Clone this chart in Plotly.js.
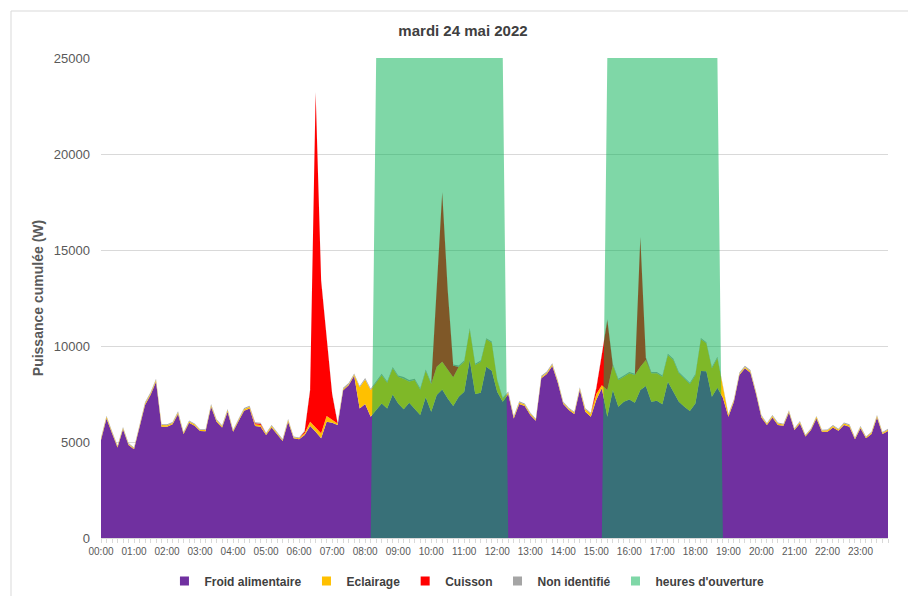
<!DOCTYPE html>
<html>
<head>
<meta charset="utf-8">
<script src="https://cdn.plot.ly/plotly-3.0.1.min.js"></script>
<style>html,body{margin:0;padding:0;background:#fff;}#chart{width:908px;height:596px;}</style>
</head>
<body>
<div id="chart"></div>
<script>
// 10-minute time slots 00:00 .. 23:50
var times = [];
for (var h = 0; h < 24; h++) { for (var m = 0; m < 60; m += 10) { times.push((h < 10 ? '0' : '') + h + ':' + (m < 10 ? '0' : '') + m); } }
var hourLabels = ['00:00','01:00','02:00','03:00','04:00','05:00','06:00','07:00','08:00','09:00','10:00','11:00',
                  '12:00','13:00','14:00','15:00','16:00','17:00','18:00','19:00','20:00','21:00','22:00','23:00'];

var froidAlimentaire = [
 5100,6230,5450,4720,5660,4840,4620,5800,6930,7450,
 8140,5800,5800,5920,6460,5420,6000,5850,5570,5560,
 6840,6060,5760,6580,5540,6090,6630,6750,5830,5800,
 5360,5760,5420,5050,6060,5190,5140,5360,5830,5540,
 5190,6060,6000,5890,7700,7950,8450,6750,6980,6320,
 6670,7010,6750,7480,7010,6700,7050,6750,6410,7330,
 6580,7450,7740,7270,6870,7360,7620,9270,7500,7570,
 8920,8710,7600,7100,7500,6230,6980,6870,6410,6110,
 8320,8540,8960,8090,6980,6670,6460,7710,6580,6320,
 7200,7800,6320,7710,6840,7100,7220,7050,7710,7920,
 7100,7150,6960,8140,7620,7100,6840,6620,7000,8700,
 8690,7360,7820,7300,6320,7100,8490,8840,8610,7530,
 6280,5890,6280,5890,5850,6530,5620,5970,5280,5620,
 6230,5540,5540,5760,5590,5890,5800,5140,5710,5190,
 5420,6280,5420,5570];

var eclairage = [
 70,80,70,60,70,60,60,70,80,80,
 90,80,70,70,80,60,70,70,60,60,
 80,70,60,80,60,70,80,80,90,90,
 70,70,60,60,80,60,60,90,230,220,
 260,290,150,80,60,60,60,1100,1280,1390,
 1420,1480,1340,1360,1390,1600,1100,1480,1330,1380,
 1440,1470,1440,1480,1500,1560,1560,1600,1510,1610,
 1430,1460,600,150,70,70,80,80,70,60,
 70,70,80,70,60,60,70,80,130,150,
 300,150,1390,1300,1390,1300,1360,1440,1210,1350,
 1480,1430,1440,1390,1650,1480,1440,1400,1480,1650,
 1450,1480,1550,500,100,80,70,70,80,70,
 70,60,70,70,60,70,60,70,60,60,
 80,60,70,70,60,70,70,60,70,60,
 70,80,60,70];

var cuisson = [
 0,0,0,0,0,0,0,0,0,0,
 0,0,0,0,0,0,0,0,0,0,
 0,0,0,0,0,0,0,0,60,60,
 0,0,0,0,0,0,0,100,1650,17430,
 7950,3950,1350,0,0,0,0,0,0,0,
 0,0,0,0,0,0,0,0,0,0,
 0,4200,8810,4150,600,0,0,0,0,0,
 0,0,0,0,0,0,0,0,0,0,
 0,0,0,0,0,0,0,0,0,0,
 300,1600,3640,0,0,0,0,0,6730,100,
 0,0,0,0,0,0,0,0,0,0,
 0,0,0,0,0,0,0,0,0,0,
 0,0,0,0,0,0,0,0,0,0,
 0,0,0,0,0,0,0,0,0,0,
 0,0,0,0];

var nonIdentifie = [
 50,60,50,40,50,50,40,50,60,60,
 60,50,50,50,60,40,50,50,40,50,
 60,50,50,60,40,50,60,60,50,50,
 40,50,40,40,60,40,40,50,60,60,
 60,60,50,50,60,60,60,70,70,60,
 60,70,60,60,70,90,80,60,60,70,
 60,60,60,70,60,70,60,70,60,70,
 60,70,60,50,60,50,60,60,50,40,
 60,60,60,50,50,50,40,60,50,50,
 50,50,60,60,60,60,60,60,60,60,
 60,60,60,60,70,60,60,60,60,70,
 60,60,70,60,50,50,60,60,60,50,
 50,40,50,50,40,50,40,50,40,40,
 50,40,40,50,40,50,50,40,50,40,
 40,50,40,50];

// opening hours (shop open) drawn as a band up to the top of the axis
var openingFrom = ['08:20', '15:20'];
var openingTo   = ['12:10', '18:40'];
var openingLevel = 25000;

var seriesNames  = ['Froid alimentaire', 'Eclairage', 'Cuisson', 'Non identifié', "heures d'ouverture"];
var seriesColors = ['#7030a0', '#ffc000', '#ff0000', '#a5a5a5', 'rgba(0,176,80,0.5)'];

var idx = times.map(function(t, i){ return i; });
var ouverture = times.map(function(t){
  for (var k = 0; k < openingFrom.length; k++) { if (t >= openingFrom[k] && t <= openingTo[k]) return openingLevel; }
  return 0;
});

var stacks = [froidAlimentaire, eclairage, cuisson, nonIdentifie];
var data = [];
stacks.forEach(function(arr, k){
  data.push({x: idx, y: arr, type: 'scatter', mode: 'lines', stackgroup: 'one',
             line: {width: 0, color: seriesColors[k]}, fillcolor: seriesColors[k],
             name: seriesNames[k], showlegend: false, hoverinfo: 'skip'});
});
data.push({x: idx, y: ouverture, type: 'scatter', mode: 'lines', fill: 'tozeroy',
           line: {width: 0, color: seriesColors[4]}, fillcolor: seriesColors[4],
           name: seriesNames[4], showlegend: false, hoverinfo: 'skip'});
// legend entries (square swatches)
seriesNames.forEach(function(n, k){
  data.push({x: [null], y: [null], type: 'scatter', mode: 'markers', name: n,
             marker: {symbol: 'square', size: 9, color: seriesColors[k]}, hoverinfo: 'skip'});
});

var hourIdx = hourLabels.map(function(l){ return times.indexOf(l); });
var FONT = 'Liberation Sans, Arial, sans-serif';

var layout = {
  width: 908, height: 596,
  margin: {l: 101, r: 20, t: 58, b: 58, autoexpand: false},
  paper_bgcolor: '#ffffff', plot_bgcolor: '#ffffff',
  font: {family: FONT, color: '#595959'},
  title: {text: '<b>mardi 24 mai 2022</b>', x: 463/908, xref: 'container', xanchor: 'center',
          y: 1 - 31/596, yref: 'container', yanchor: 'middle',
          font: {size: 15, color: '#404040', family: FONT}},
  xaxis: {range: [0, 143], tickmode: 'array', tickvals: hourIdx, ticktext: hourLabels,
          ticks: 'outside', ticklen: 4, tickcolor: '#d9d9d9', showline: true, linecolor: '#d9d9d9',
          showgrid: false, zeroline: false, tickfont: {size: 10, color: '#595959'},
          minor: {tick0: 0, dtick: 1, ticks: 'outside', ticklen: 4, tickcolor: '#d9d9d9', showgrid: false},
          automargin: false, fixedrange: true},
  yaxis: {range: [0, 25000], tickmode: 'array', tickvals: [0, 5000, 10000, 15000, 20000, 25000],
          ticktext: ['0','5000','10000','15000','20000','25000'],
          showgrid: true, gridcolor: '#d9d9d9', gridwidth: 1, zeroline: false, showline: false,
          ticks: '', ticklabelstandoff: 10, tickfont: {size: 13, color: '#595959'},
          title: {text: '<b>Puissance cumulée (W)</b>', font: {size: 14, color: '#595959'}, standoff: 6},
          automargin: false, fixedrange: true},
  legend: {orientation: 'h', x: 0.465, xanchor: 'center', y: (538 - 581) / 480, yanchor: 'middle',
           font: {size: 12, color: '#404040', family: FONT, weight: 'bold'}, traceorder: 'normal', itemwidth: 30},
  shapes: [{type: 'rect', xref: 'paper', yref: 'paper', x0: (11 - 101) / 787, x1: (915 - 101) / 787,
            y0: (538 - 610) / 480, y1: (538 - 11) / 480, line: {color: '#d9d9d9', width: 1}, layer: 'below'}],
  showlegend: true
};

Plotly.newPlot('chart', data, layout, {displayModeBar: false, staticPlot: true});
</script>
</body>
</html>
